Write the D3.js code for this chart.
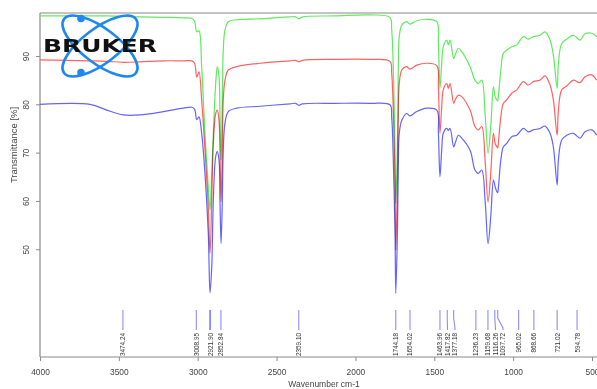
<!DOCTYPE html>
<html><head><meta charset="utf-8">
<script src="https://cdn.jsdelivr.net/npm/d3@7"></script>
<style>
html,body{margin:0;padding:0;background:#fff;}
svg{display:block;font-family:"Liberation Sans",Arial,sans-serif;}
</style></head>
<body>
<svg id="chart" width="597" height="389"></svg>
<script>
// ---- data ----
const wavenumbers = [4000,3683,3577,3472,3366,3218,3091,3038,3020,3006,2992,2975,2954,2933,2922,2911,2901,2886,2876,2865,2859,2852,2844,2838,2827,2806,2753,2605,2415,2380,2359,2335,2130,1907,1781,1770,1760,1749,1744,1734,1728,1722,1706,1675,1654,1611,1548,1484,1474,1464,1453,1443,1421,1411,1400,1377,1368,1347,1326,1273,1242,1221,1199,1178,1159,1142,1125,1114,1103,1098,1093,1078,1062,1041,1009,977,935,904,872,830,798,766,745,721,713,692,660,618,576,544,502,470];
const blueT = [80.0,80.0,78.8,77.8,77.8,78.5,79.2,79.4,79.0,76.8,77.4,74.0,65.7,53.3,41.0,46.4,60.2,69.2,70.2,68.5,60.2,51.2,60.2,70.5,76.1,78.5,79.2,79.6,80.1,80.2,79.8,80.1,80.2,80.2,79.9,77.4,68.5,53.3,40.9,53.3,67.1,74.0,76.7,78.1,77.6,78.5,79.2,78.8,74.0,65.0,70.5,74.0,75.0,74.6,75.0,71.2,71.9,73.6,73.0,70.5,66.4,65.7,66.4,60.2,51.2,56.7,64.3,62.9,61.9,61.7,62.9,68.5,71.2,71.9,73.3,73.6,75.0,74.3,74.7,75.0,75.5,74.0,71.2,63.3,68.5,72.6,73.6,74.0,73.0,74.3,74.7,73.6];
const redT = [89.2,89.0,88.9,88.7,88.8,89.0,89.0,89.0,88.5,85.6,86.7,80.9,70.5,58.8,49.2,60.2,71.9,78.1,78.8,76.7,70.5,59.8,70.5,80.9,85.0,87.1,87.8,88.5,89.0,89.1,88.8,89.1,89.3,89.3,88.9,86.4,78.8,63.6,49.8,63.6,77.4,84.3,87.1,87.8,87.3,88.1,88.5,88.0,83.6,74.0,79.5,83.0,84.3,83.3,84.3,80.2,80.9,81.9,81.6,78.8,75.4,74.7,75.4,68.5,59.8,65.7,74.0,71.9,71.2,71.0,72.3,77.4,80.2,80.9,82.3,83.0,84.7,84.0,84.7,85.0,85.9,84.0,80.9,73.6,78.8,83.0,83.8,85.0,84.5,85.7,86.1,85.0];
const greenT = [98.3,98.3,98.3,98.2,98.1,98.0,97.9,97.8,97.2,95.0,95.2,87.8,74.0,63.0,58.1,66.0,74.0,84.3,87.8,85.7,78.0,68.5,80.9,91.2,95.4,97.1,97.5,97.7,98.1,98.1,97.7,98.1,98.3,98.5,98.0,95.4,87.8,70.5,59.5,71.3,87.8,94.0,96.4,97.1,96.6,97.3,97.6,97.1,92.6,83.3,88.5,91.9,93.3,92.3,93.3,89.5,90.2,91.6,90.9,87.8,85.0,84.3,85.0,78.1,69.9,75.4,83.6,81.6,80.9,80.7,81.9,87.1,90.6,91.2,91.9,92.3,94.0,93.5,94.0,94.3,95.0,93.3,90.2,83.3,88.5,92.6,93.5,94.3,93.3,94.6,94.7,94.0];
const peakLabels = ["3474.24","3008.95","2921.90","2852.84","2359.10","1744.18","1654.02","1463.96","1417.82","1377.18","1236.23","1159.68","1116.26","1097.72","965.02","868.66","721.02","594.78"];
const xTicks = [4000,3500,3000,2500,2000,1500,1000,500];
const yTicks = [50,60,70,80,90];
const seriesNames = ["blue","red","green"];
const seriesColors = ["#6464ff","#ff6262","#5fea5f"];

// ---- layout ----
const svg = d3.select("#chart");
const x = d3.scaleLinear().domain([4000,500]).range([40,592]);
const y = d3.scaleLinear().domain([27.7,98.9]).range([357,13]);
const axisColor = "#8a8a8a";

svg.append("clipPath").attr("id","plotclip").append("rect")
  .attr("x",40).attr("y",13).attr("width",557).attr("height",344);

// frame
svg.append("line").attr("x1",40).attr("x2",597).attr("y1",13).attr("y2",13).attr("stroke",axisColor).attr("stroke-width",1.2);

// x axis
const xAxis = d3.axisBottom(x).tickValues(xTicks).tickSize(4).tickSizeOuter(0).tickFormat(d3.format("d"));
const gx = svg.append("g").attr("transform","translate(0,357)").call(xAxis);
gx.select(".domain").attr("stroke",axisColor).attr("stroke-width",1.2).attr("d","M40,0H597");
gx.selectAll(".tick line").attr("stroke",axisColor);
gx.selectAll(".tick text").attr("fill","#444").attr("font-size","8.4px").attr("y",12);

// y axis
const yAxis = d3.axisLeft(y).tickValues(yTicks).tickSize(4).tickSizeOuter(0);
const gy = svg.append("g").attr("transform","translate(40,0)").call(yAxis);
gy.select(".domain").attr("stroke",axisColor).attr("stroke-width",1.2).attr("d","M0,13V357");
gy.selectAll(".tick line").attr("stroke",axisColor);
gy.selectAll(".tick text").attr("fill","#444").attr("font-size","8.4px")
  .attr("x",null).attr("dy",null).attr("text-anchor","middle").attr("dominant-baseline","central")
  .attr("transform","translate(-14,0) rotate(-90)");

// axis titles
svg.append("text").attr("x",324).attr("y",387).attr("text-anchor","middle")
  .attr("font-size","8.5px").attr("fill","#444").text("Wavenumber cm-1");
svg.append("text").attr("transform","translate(13,145) rotate(-90)").attr("text-anchor","middle")
  .attr("dominant-baseline","central").attr("font-size","9.5px").attr("fill","#444").text("Transmittance [%]");

// spectra
const seriesValues = [blueT, redT, greenT];
const gl = svg.append("g").attr("clip-path","url(#plotclip)");
seriesValues.forEach((vals,k)=>{
  gl.append("path").datum(vals).attr("d", d=>d3.line().x((v,i)=>x(wavenumbers[i])).y(v=>y(v)).curve(d3.curveCatmullRom.alpha(0.5))(d))
    .attr("fill","none").attr("stroke",seriesColors[k]).attr("stroke-width",1.2)
    .style("mix-blend-mode","multiply");
});

// peak labels
const peaks = peakLabels.map(s=>({label:s, wn:+s}));
let prev = -1e9;
peaks.forEach(p=>{ p.px = x(p.wn); p.lx = Math.max(p.px, prev + 7.5); prev = p.lx; });
const gp = svg.append("g");
peaks.forEach(p=>{
  const strong = p.label==="2921.90";
  gp.append("path").attr("d", p.lx===p.px ? `M${p.px},310V330` : `M${p.px},310V318L${p.lx},328V330`)
    .attr("fill","none").attr("stroke", strong?"#3a3aff":"#8c8cff").attr("stroke-width",1.1);
  gp.append("text").attr("transform",`translate(${p.lx},333) rotate(-90)`)
    .attr("text-anchor","end").attr("dominant-baseline","central")
    .attr("font-size","6.4px").attr("fill","#333").text(p.label);
});

// Bruker logo
const logo = svg.append("g");
const cx = 100, cy = 46;
[-37,37].forEach(a=>{
  logo.append("ellipse").attr("cx",cx).attr("cy",cy).attr("rx",45).attr("ry",17.5)
    .attr("transform",`rotate(${a},${cx},${cy})`).attr("fill","none").attr("stroke","#1e88f0").attr("stroke-width",2.6);
});
[[81,18.5],[81,72.5]].forEach(c=>{
  logo.append("circle").attr("cx",c[0]).attr("cy",c[1]).attr("r",3.8).attr("fill","#1e88f0");
});
logo.append("text").attr("x",43).attr("y",52).attr("font-family","'DejaVu Sans',sans-serif").attr("font-weight","bold")
  .attr("font-size","17px").attr("fill","#111").attr("textLength",114).attr("lengthAdjust","spacingAndGlyphs").text("BRUKER");
</script>
</body></html>
